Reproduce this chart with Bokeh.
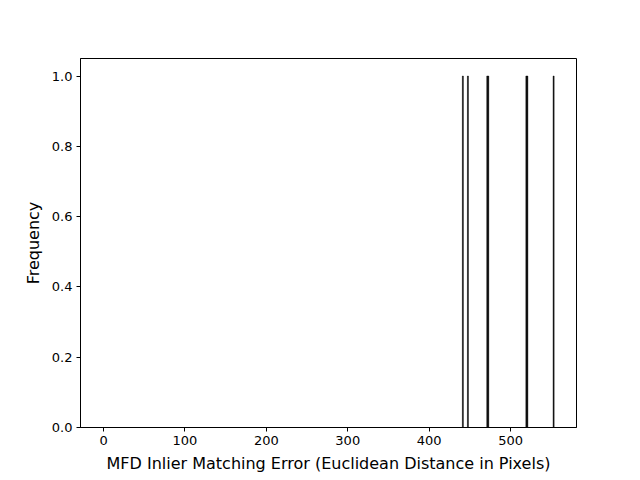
from bokeh.plotting import figure
from bokeh.models import Range1d, FixedTicker, PrintfTickFormatter, ColumnDataSource
from bokeh.embed import file_html
from bokeh.resources import INLINE

# Matching error values (one per bin, each frequency 1)
errors = [440.8, 447.0, 470.8, 472.0, 518.8, 520.0, 552.3]
counts = [1, 1, 1, 1, 1, 1, 1]
bin_width = 1.2
x_ticks = [0, 100, 200, 300, 400, 500]
y_ticks = [0.0, 0.2, 0.4, 0.6, 0.8, 1.0]

p = figure(width=640, height=480, output_backend="svg", toolbar_location=None,
           x_range=Range1d(-28.3, 581), y_range=Range1d(0, 1.05),
           min_border_left=80, min_border_right=64, min_border_top=58, min_border_bottom=53)

src = ColumnDataSource(dict(left=errors, right=[e + bin_width for e in errors],
                            top=counts, bottom=[0] * len(counts)))
p.quad(left="left", right="right", top="top", bottom="bottom", source=src,
       fill_color="black", line_color="black", line_width=0.5)

p.xgrid.visible = False
p.ygrid.visible = False
p.outline_line_color = "black"
p.outline_line_alpha = 1.0
p.background_fill_color = "white"
p.border_fill_color = "white"

for ax in (p.xaxis[0], p.yaxis[0]):
    ax.major_tick_out = 4
    ax.major_tick_in = 0
    ax.minor_tick_out = 0
    ax.minor_tick_in = 0
    ax.major_tick_line_color = "black"
    ax.axis_line_color = "black"
    ax.major_label_text_font = "DejaVu Sans"
    ax.major_label_text_font_size = "13px"
    ax.major_label_text_color = "black"
    ax.axis_label_text_font = "DejaVu Sans"
    ax.axis_label_text_font_size = "16px"
    ax.axis_label_text_font_style = "normal"
    ax.axis_label_text_color = "black"
    ax.major_label_standoff = 4
    ax.axis_label_standoff = 6

p.xaxis.ticker = FixedTicker(ticks=x_ticks)
p.yaxis.ticker = FixedTicker(ticks=y_ticks)
p.yaxis.formatter = PrintfTickFormatter(format="%.1f")
p.xaxis.axis_label = "MFD Inlier Matching Error (Euclidean Distance in Pixels)"
p.yaxis.axis_label = "Frequency"

open("out.html", "w").write(file_html(p, INLINE))
